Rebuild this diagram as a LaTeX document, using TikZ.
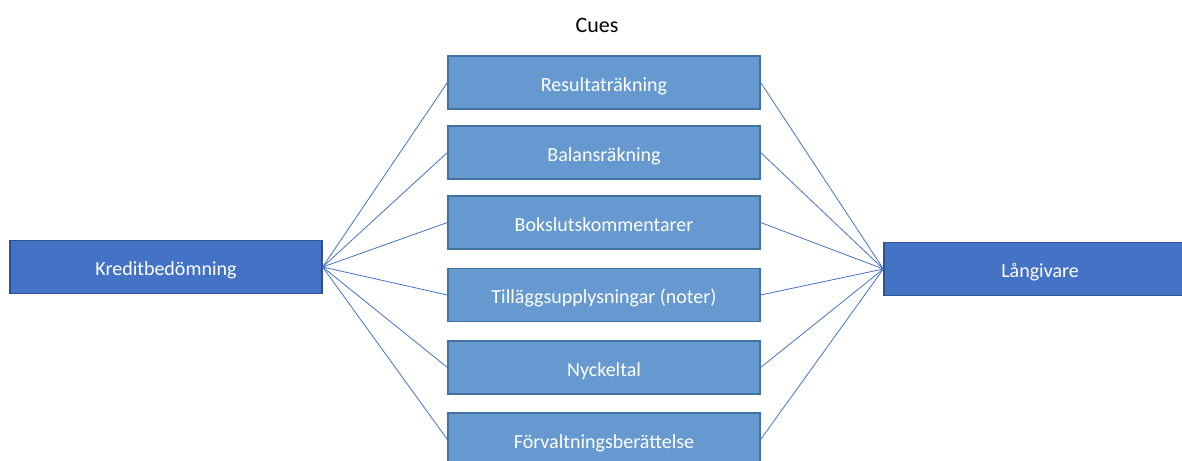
\documentclass[tikz,border=0pt]{standalone}
\usepackage{fontspec}
\setmainfont{Carlito}
\definecolor{darkblue}{HTML}{4472C4}
\definecolor{darkborder}{HTML}{2F528F}
\definecolor{midblue}{HTML}{6599CF}
\definecolor{midborder}{HTML}{41719C}
\tikzset{
  boxbase/.style={line width=1.2pt, minimum width=312pt, minimum height=53pt, inner sep=0pt, text height=17.5pt, text depth=0pt, text=white, font=\fontsize{20}{22}\selectfont},
  mainbox/.style={boxbase, draw=darkborder, fill=darkblue},
  cuebox/.style={boxbase, draw=midborder, fill=midblue},
  link/.style={draw=darkblue, line width=0.8pt}
}
\begin{document}
\begin{tikzpicture}[x=1pt,y=-1pt]
\useasboundingbox (0,0) rectangle (1182,460);
\clip (0,0) rectangle (1182,460);
\node[font=\fontsize{22}{24}\selectfont, text=black] (title) at (597,25) {Cues};
\node[mainbox] (kb) at (166,267) {Kreditbedömning};
\node[mainbox] (lg) at (1040,269) {Långivare};
\node[cuebox] (c1) at (604,82.5) {Resultaträkning};
\node[cuebox] (c2) at (604,152.5) {Balansräkning};
\node[cuebox] (c3) at (604,222.5) {Bokslutskommentarer};
\node[cuebox] (c4) at (604,295) {Tilläggsupplysningar (noter)};
\node[cuebox] (c5) at (604,367.5) {Nyckeltal};
\node[cuebox] (c6) at (604,439.5) {Förvaltningsberättelse};
\foreach \c in {c1,c2,c3,c4,c5,c6}{
  \draw[link] (kb.east) -- (\c.west);
  \draw[link] (\c.east) -- (lg.west);
}
\end{tikzpicture}
\end{document}
